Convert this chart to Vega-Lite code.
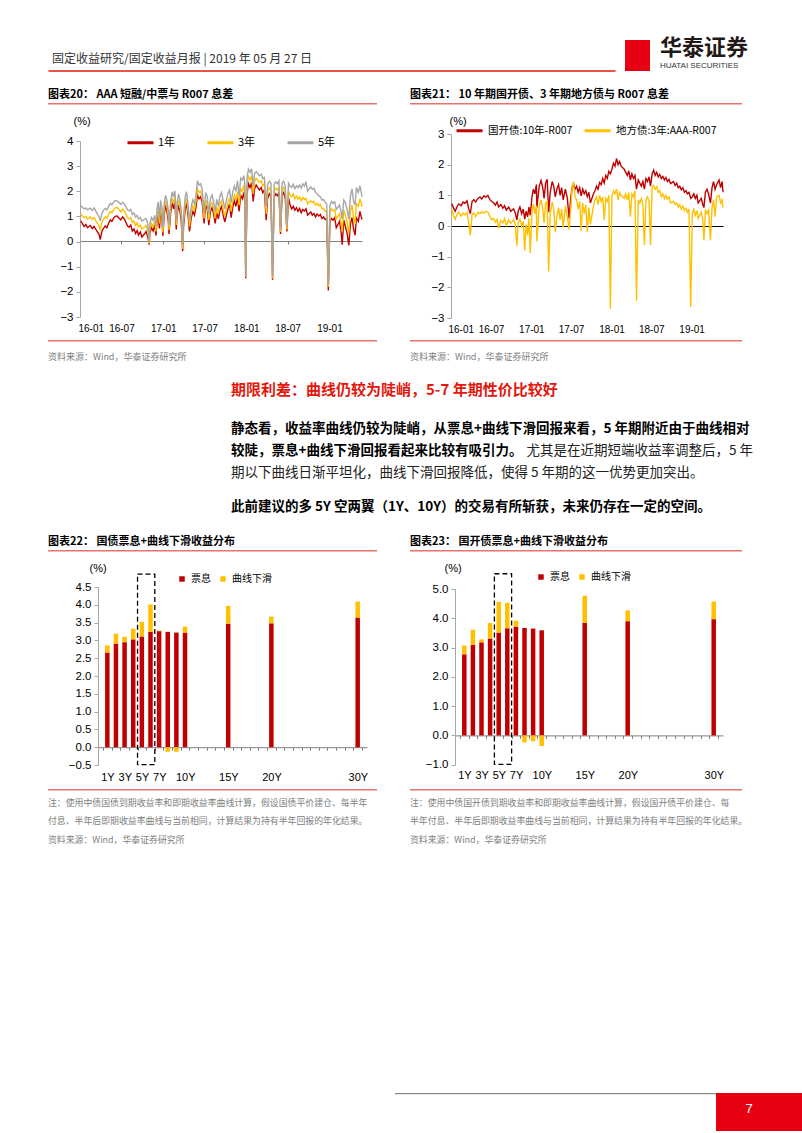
{
"$schema": "https://vega.github.io/schema/vega-lite/v6.json",
"background": "white",
"padding": {"left": 48, "top": 37, "right": 0, "bottom": 0},
"config": {
  "font": "Noto Sans CJK SC",
  "view": {"stroke": null},
  "concat": {"spacing": 0},
  "axis": {"grid": false, "labelFont": "Liberation Sans", "labelFontSize": 11.5, "labelColor": "#000000", "domainColor": "#a6a6a6", "tickColor": "#a6a6a6", "labelOverlap": false},
  "legend": {"labelFont": "Noto Sans CJK SC", "labelColor": "#000000", "padding": 0},
  "title": {"font": "Noto Sans CJK SC", "color": "#000000", "fontWeight": "normal", "anchor": "start", "frame": "group"}
},
"datasets": {
  "s20": [
    {"date":"2016-01-04","1年":0.82,"3年":1.10,"5年":1.45},
    {"date":"2016-01-11","1年":0.72,"3年":1.02,"5年":1.36},
    {"date":"2016-01-19","1年":0.60,"3年":0.95,"5年":1.30},
    {"date":"2016-01-27","1年":0.68,"3年":1.00,"5年":1.34},
    {"date":"2016-02-03","1年":0.55,"3年":0.90,"5年":1.26},
    {"date":"2016-02-15","1年":0.64,"3年":0.98,"5年":1.33},
    {"date":"2016-02-24","1年":0.52,"3年":0.88,"5年":1.24},
    {"date":"2016-03-03","1年":0.60,"3年":0.96,"5年":1.34},
    {"date":"2016-03-11","1年":0.48,"3年":0.82,"5年":1.20},
    {"date":"2016-03-18","1年":0.38,"3年":0.72,"5年":1.08},
    {"date":"2016-03-25","1年":0.28,"3年":0.62,"5年":0.98},
    {"date":"2016-03-30","1年":0.08,"3年":0.45,"5年":0.82},
    {"date":"2016-04-06","1年":0.40,"3年":0.76,"5年":1.12},
    {"date":"2016-04-13","1年":0.52,"3年":0.88,"5年":1.24},
    {"date":"2016-04-21","1年":0.62,"3年":0.98,"5年":1.32},
    {"date":"2016-04-28","1年":0.55,"3年":0.92,"5年":1.26},
    {"date":"2016-05-06","1年":0.74,"3年":1.08,"5年":1.40},
    {"date":"2016-05-13","1年":0.86,"3年":1.20,"5年":1.52},
    {"date":"2016-05-20","1年":0.80,"3年":1.14,"5年":1.46},
    {"date":"2016-05-27","1年":0.92,"3年":1.26,"5年":1.56},
    {"date":"2016-06-03","1年":1.00,"3年":1.34,"5年":1.63},
    {"date":"2016-06-12","1年":1.02,"3年":1.36,"5年":1.62},
    {"date":"2016-06-20","1年":0.94,"3年":1.28,"5年":1.56},
    {"date":"2016-06-28","1年":0.86,"3年":1.18,"5年":1.48},
    {"date":"2016-07-06","1年":0.98,"3年":1.30,"5年":1.56},
    {"date":"2016-07-14","1年":0.90,"3年":1.22,"5年":1.50},
    {"date":"2016-07-21","1年":0.76,"3年":1.08,"5年":1.38},
    {"date":"2016-07-28","1年":0.62,"3年":0.95,"5年":1.26},
    {"date":"2016-08-04","1年":0.58,"3年":0.90,"5年":1.22},
    {"date":"2016-08-11","1年":0.66,"3年":0.96,"5年":1.28},
    {"date":"2016-08-18","1年":0.42,"3年":0.76,"5年":1.08},
    {"date":"2016-08-25","1年":0.50,"3年":0.82,"5年":1.14},
    {"date":"2016-09-01","1年":0.32,"3年":0.64,"5年":0.98},
    {"date":"2016-09-08","1年":0.44,"3年":0.74,"5年":1.04},
    {"date":"2016-09-14","1年":0.26,"3年":0.58,"5年":0.90},
    {"date":"2016-09-22","1年":0.38,"3年":0.66,"5年":0.96},
    {"date":"2016-09-29","1年":0.18,"3年":0.50,"5年":0.82},
    {"date":"2016-10-10","1年":0.30,"3年":0.58,"5年":0.88},
    {"date":"2016-10-17","1年":0.40,"3年":0.64,"5年":0.92},
    {"date":"2016-10-24","1年":0.22,"3年":0.46,"5年":0.74},
    {"date":"2016-10-28","1年":0.05,"3年":0.20,"5年":0.40},
    {"date":"2016-10-31","1年":-0.12,"3年":-0.08,"5年":0.00},
    {"date":"2016-11-03","1年":0.32,"3年":0.46,"5年":0.70},
    {"date":"2016-11-10","1年":0.56,"3年":0.72,"5年":0.96},
    {"date":"2016-11-17","1年":0.42,"3年":0.60,"5年":0.84},
    {"date":"2016-11-24","1年":0.66,"3年":0.82,"5年":1.04},
    {"date":"2016-11-30","1年":0.24,"3年":0.40,"5年":0.62},
    {"date":"2016-12-05","1年":0.90,"3年":1.10,"5年":1.34},
    {"date":"2016-12-09","1年":1.08,"3年":1.30,"5年":1.58},
    {"date":"2016-12-15","1年":0.52,"3年":0.72,"5年":0.94},
    {"date":"2016-12-20","1年":1.15,"3年":1.38,"5年":1.64},
    {"date":"2016-12-26","1年":0.92,"3年":1.12,"5年":1.36},
    {"date":"2016-12-30","1年":0.22,"3年":0.36,"5年":0.58},
    {"date":"2017-01-05","1年":1.05,"3年":1.28,"5年":1.52},
    {"date":"2017-01-11","1年":1.45,"3年":1.62,"5年":1.84},
    {"date":"2017-01-17","1年":1.20,"3年":1.40,"5年":1.64},
    {"date":"2017-01-23","1年":0.80,"3年":1.00,"5年":1.22},
    {"date":"2017-01-26","1年":0.30,"3年":0.45,"5年":0.66},
    {"date":"2017-02-03","1年":1.20,"3年":1.42,"5年":1.66},
    {"date":"2017-02-09","1年":1.55,"3年":1.74,"5年":1.98},
    {"date":"2017-02-15","1年":1.30,"3年":1.52,"5年":1.78},
    {"date":"2017-02-21","1年":1.58,"3年":1.78,"5年":2.02},
    {"date":"2017-02-27","1年":0.48,"3年":0.66,"5年":0.86},
    {"date":"2017-03-03","1年":1.10,"3年":1.32,"5年":1.56},
    {"date":"2017-03-09","1年":1.45,"3年":1.66,"5年":1.90},
    {"date":"2017-03-15","1年":1.20,"3年":1.42,"5年":1.66},
    {"date":"2017-03-21","1年":0.80,"3年":1.00,"5年":1.24},
    {"date":"2017-03-27","1年":-0.38,"3年":-0.28,"5年":-0.15},
    {"date":"2017-03-31","1年":0.60,"3年":0.80,"5年":1.02},
    {"date":"2017-04-07","1年":1.28,"3年":1.50,"5年":1.76},
    {"date":"2017-04-13","1年":1.52,"3年":1.72,"5年":1.98},
    {"date":"2017-04-19","1年":1.10,"3年":1.32,"5年":1.56},
    {"date":"2017-04-26","1年":0.40,"3年":0.60,"5年":0.82},
    {"date":"2017-05-04","1年":0.95,"3年":1.18,"5年":1.42},
    {"date":"2017-05-11","1年":1.20,"3年":1.42,"5年":1.66},
    {"date":"2017-05-18","1年":1.05,"3年":1.26,"5年":1.50},
    {"date":"2017-05-25","1年":1.40,"3年":1.62,"5年":1.88},
    {"date":"2017-05-31","1年":1.85,"3年":2.10,"5年":2.42},
    {"date":"2017-06-07","1年":1.70,"3年":1.95,"5年":2.25},
    {"date":"2017-06-14","1年":1.78,"3年":2.00,"5年":2.30},
    {"date":"2017-06-21","1年":1.55,"3年":1.78,"5年":2.08},
    {"date":"2017-06-29","1年":0.72,"3年":0.92,"5年":1.15},
    {"date":"2017-07-06","1年":1.45,"3年":1.65,"5年":1.95},
    {"date":"2017-07-13","1年":1.30,"3年":1.50,"5年":1.80},
    {"date":"2017-07-20","1年":0.65,"3年":0.85,"5年":1.10},
    {"date":"2017-07-27","1年":1.20,"3年":1.42,"5年":1.70},
    {"date":"2017-08-03","1年":1.35,"3年":1.55,"5年":1.85},
    {"date":"2017-08-10","1年":1.10,"3年":1.30,"5年":1.60},
    {"date":"2017-08-17","1年":0.72,"3年":0.92,"5年":1.18},
    {"date":"2017-08-24","1年":1.15,"3年":1.38,"5年":1.68},
    {"date":"2017-08-31","1年":0.90,"3年":1.10,"5年":1.40},
    {"date":"2017-09-07","1年":1.25,"3年":1.50,"5年":1.82},
    {"date":"2017-09-14","1年":1.40,"3年":1.62,"5年":1.95},
    {"date":"2017-09-21","1年":1.05,"3年":1.28,"5年":1.62},
    {"date":"2017-09-28","1年":0.78,"3年":1.00,"5年":1.30},
    {"date":"2017-10-12","1年":1.30,"3年":1.55,"5年":1.92},
    {"date":"2017-10-19","1年":1.50,"3年":1.72,"5年":2.05},
    {"date":"2017-10-26","1年":0.95,"3年":1.20,"5年":1.55},
    {"date":"2017-11-02","1年":1.35,"3年":1.60,"5年":1.98},
    {"date":"2017-11-09","1年":1.62,"3年":1.85,"5年":2.20},
    {"date":"2017-11-16","1年":1.40,"3年":1.65,"5年":2.00},
    {"date":"2017-11-23","1年":1.75,"3年":2.00,"5年":2.42},
    {"date":"2017-11-30","1年":1.20,"3年":1.45,"5年":1.80},
    {"date":"2017-12-07","1年":1.85,"3年":2.10,"5年":2.52},
    {"date":"2017-12-14","1年":1.70,"3年":2.00,"5年":2.45},
    {"date":"2017-12-21","1年":1.95,"3年":2.25,"5年":2.62},
    {"date":"2017-12-26","1年":1.50,"3年":1.80,"5年":2.20},
    {"date":"2017-12-29","1年":-1.46,"3年":-1.40,"5年":-1.38},
    {"date":"2018-01-04","1年":1.90,"3年":2.25,"5年":2.55},
    {"date":"2018-01-10","1年":2.30,"3年":2.60,"5年":2.88},
    {"date":"2018-01-17","1年":2.15,"3年":2.45,"5年":2.75},
    {"date":"2018-01-24","1年":2.35,"3年":2.62,"5年":2.90},
    {"date":"2018-01-31","1年":1.60,"3年":1.90,"5年":2.20},
    {"date":"2018-02-06","1年":2.10,"3年":2.40,"5年":2.70},
    {"date":"2018-02-13","1年":2.25,"3年":2.52,"5年":2.78},
    {"date":"2018-02-27","1年":2.05,"3年":2.35,"5年":2.62},
    {"date":"2018-03-07","1年":2.15,"3年":2.42,"5年":2.68},
    {"date":"2018-03-14","1年":1.95,"3年":2.22,"5年":2.50},
    {"date":"2018-03-21","1年":2.05,"3年":2.30,"5年":2.55},
    {"date":"2018-03-29","1年":0.85,"3年":1.10,"5年":1.40},
    {"date":"2018-04-04","1年":1.70,"3年":1.98,"5年":2.25},
    {"date":"2018-04-12","1年":1.90,"3年":2.15,"5年":2.40},
    {"date":"2018-04-19","1年":1.80,"3年":2.05,"5年":2.32},
    {"date":"2018-04-26","1年":-1.52,"3年":-1.46,"5年":-1.40},
    {"date":"2018-05-03","1年":1.75,"3年":2.00,"5年":2.28},
    {"date":"2018-05-10","1年":1.90,"3年":2.12,"5年":2.38},
    {"date":"2018-05-17","1年":1.82,"3年":2.05,"5年":2.30},
    {"date":"2018-05-24","1年":1.95,"3年":2.18,"5年":2.42},
    {"date":"2018-05-31","1年":0.30,"3年":0.38,"5年":0.50},
    {"date":"2018-06-07","1年":1.85,"3年":2.08,"5年":2.35},
    {"date":"2018-06-14","1年":1.95,"3年":2.15,"5年":2.40},
    {"date":"2018-06-21","1年":1.70,"3年":1.92,"5年":2.20},
    {"date":"2018-06-28","1年":0.40,"3年":0.48,"5年":0.62},
    {"date":"2018-07-05","1年":1.75,"3年":2.00,"5年":2.32},
    {"date":"2018-07-12","1年":1.45,"3年":1.85,"5年":2.20},
    {"date":"2018-07-19","1年":1.30,"3年":1.78,"5年":2.15},
    {"date":"2018-07-26","1年":1.40,"3年":1.90,"5年":2.28},
    {"date":"2018-08-02","1年":1.25,"3年":1.70,"5年":2.10},
    {"date":"2018-08-09","1年":1.35,"3年":1.80,"5年":2.22},
    {"date":"2018-08-16","1年":1.20,"3年":1.68,"5年":2.15},
    {"date":"2018-08-23","1年":1.32,"3年":1.78,"5年":2.25},
    {"date":"2018-08-30","1年":1.15,"3年":1.62,"5年":2.12},
    {"date":"2018-09-06","1年":1.28,"3年":1.75,"5年":2.30},
    {"date":"2018-09-13","1年":1.22,"3年":1.68,"5年":2.20},
    {"date":"2018-09-20","1年":1.30,"3年":1.72,"5年":2.38},
    {"date":"2018-09-27","1年":1.05,"3年":1.50,"5年":2.00},
    {"date":"2018-10-11","1年":1.18,"3年":1.62,"5年":2.18},
    {"date":"2018-10-18","1年":1.05,"3年":1.55,"5年":2.08},
    {"date":"2018-10-25","1年":1.12,"3年":1.60,"5年":2.12},
    {"date":"2018-11-01","1年":0.98,"3年":1.45,"5年":1.95},
    {"date":"2018-11-08","1年":1.10,"3年":1.52,"5年":1.90},
    {"date":"2018-11-15","1年":1.02,"3年":1.42,"5年":1.82},
    {"date":"2018-11-22","1年":1.08,"3年":1.48,"5年":1.78},
    {"date":"2018-11-29","1年":0.92,"3年":1.30,"5年":1.65},
    {"date":"2018-12-06","1年":0.98,"3年":1.32,"5年":1.68},
    {"date":"2018-12-13","1年":0.88,"3年":1.20,"5年":1.55},
    {"date":"2018-12-20","1年":0.92,"3年":1.22,"5年":1.50},
    {"date":"2018-12-27","1年":-1.95,"3年":-1.80,"5年":-1.70},
    {"date":"2019-01-03","1年":0.80,"3年":1.18,"5年":1.45},
    {"date":"2019-01-10","1年":0.92,"3年":1.30,"5年":1.60},
    {"date":"2019-01-17","1年":0.85,"3年":1.22,"5年":1.52},
    {"date":"2019-01-24","1年":0.95,"3年":1.28,"5年":1.58},
    {"date":"2019-01-31","1年":0.55,"3年":0.90,"5年":1.28},
    {"date":"2019-02-14","1年":0.80,"3年":1.10,"5年":1.45},
    {"date":"2019-02-21","1年":0.40,"3年":0.75,"5年":1.20},
    {"date":"2019-02-26","1年":-0.12,"3年":0.40,"5年":0.90},
    {"date":"2019-03-05","1年":0.85,"3年":1.25,"5年":1.65},
    {"date":"2019-03-12","1年":0.60,"3年":1.05,"5年":1.55},
    {"date":"2019-03-19","1年":0.35,"3年":0.80,"5年":1.30},
    {"date":"2019-03-27","1年":-0.15,"3年":0.30,"5年":0.90},
    {"date":"2019-04-03","1年":0.70,"3年":1.20,"5年":1.80},
    {"date":"2019-04-10","1年":0.95,"3年":1.45,"5年":2.10},
    {"date":"2019-04-17","1年":0.50,"3年":0.95,"5年":1.60},
    {"date":"2019-04-24","1年":0.25,"3年":0.70,"5年":1.45},
    {"date":"2019-04-29","1年":0.95,"3年":1.50,"5年":2.15},
    {"date":"2019-05-08","1年":0.80,"3年":1.40,"5年":1.95},
    {"date":"2019-05-15","1年":1.20,"3年":1.70,"5年":2.22},
    {"date":"2019-05-20","1年":1.00,"3年":1.55,"5年":2.00},
    {"date":"2019-05-24","1年":0.88,"3年":1.38,"5年":1.78}
  ],
  "s21": [
    {"date":"2016-01-04","国开债:10年-R007":0.73,"地方债:3年:AAA-R007":0.55},
    {"date":"2016-01-12","国开债:10年-R007":0.60,"地方债:3年:AAA-R007":0.35},
    {"date":"2016-01-20","国开债:10年-R007":0.48,"地方债:3年:AAA-R007":0.22},
    {"date":"2016-01-28","国开债:10年-R007":0.62,"地方债:3年:AAA-R007":0.38},
    {"date":"2016-02-05","国开债:10年-R007":0.72,"地方债:3年:AAA-R007":0.45},
    {"date":"2016-02-16","国开债:10年-R007":0.66,"地方债:3年:AAA-R007":0.32},
    {"date":"2016-02-25","国开债:10年-R007":0.78,"地方债:3年:AAA-R007":0.42},
    {"date":"2016-03-04","国开债:10年-R007":0.74,"地方债:3年:AAA-R007":0.36},
    {"date":"2016-03-14","国开债:10年-R007":0.82,"地方债:3年:AAA-R007":0.44},
    {"date":"2016-03-22","国开债:10年-R007":0.55,"地方债:3年:AAA-R007":0.10},
    {"date":"2016-03-29","国开债:10年-R007":0.40,"地方债:3年:AAA-R007":-0.30},
    {"date":"2016-04-06","国开债:10年-R007":0.80,"地方债:3年:AAA-R007":0.38},
    {"date":"2016-04-14","国开债:10年-R007":0.86,"地方债:3年:AAA-R007":0.42},
    {"date":"2016-04-22","国开债:10年-R007":0.78,"地方债:3年:AAA-R007":0.30},
    {"date":"2016-05-03","国开债:10年-R007":0.90,"地方债:3年:AAA-R007":0.45},
    {"date":"2016-05-12","国开债:10年-R007":0.95,"地方债:3年:AAA-R007":0.40},
    {"date":"2016-05-20","国开债:10年-R007":0.88,"地方债:3年:AAA-R007":0.46},
    {"date":"2016-05-30","国开债:10年-R007":0.98,"地方债:3年:AAA-R007":0.42},
    {"date":"2016-06-08","国开债:10年-R007":0.94,"地方债:3年:AAA-R007":0.48},
    {"date":"2016-06-17","国开债:10年-R007":1.00,"地方债:3年:AAA-R007":0.45},
    {"date":"2016-06-27","国开债:10年-R007":0.85,"地方债:3年:AAA-R007":0.30},
    {"date":"2016-07-05","国开债:10年-R007":0.80,"地方债:3年:AAA-R007":0.20},
    {"date":"2016-07-13","国开债:10年-R007":0.76,"地方债:3年:AAA-R007":0.25},
    {"date":"2016-07-21","国开债:10年-R007":0.68,"地方债:3年:AAA-R007":0.12},
    {"date":"2016-07-29","国开债:10年-R007":0.78,"地方债:3年:AAA-R007":0.22},
    {"date":"2016-08-05","国开债:10年-R007":0.62,"地方债:3年:AAA-R007":-0.08},
    {"date":"2016-08-15","国开债:10年-R007":0.70,"地方债:3年:AAA-R007":0.18},
    {"date":"2016-08-24","国开债:10年-R007":0.58,"地方债:3年:AAA-R007":0.10},
    {"date":"2016-09-01","国开债:10年-R007":0.66,"地方债:3年:AAA-R007":0.24},
    {"date":"2016-09-09","国开债:10年-R007":0.52,"地方债:3年:AAA-R007":0.02},
    {"date":"2016-09-20","国开债:10年-R007":0.62,"地方债:3年:AAA-R007":0.20},
    {"date":"2016-09-29","国开债:10年-R007":0.48,"地方债:3年:AAA-R007":0.08},
    {"date":"2016-10-12","国开债:10年-R007":0.56,"地方债:3年:AAA-R007":0.20},
    {"date":"2016-10-20","国开债:10年-R007":0.42,"地方债:3年:AAA-R007":0.05},
    {"date":"2016-10-27","国开债:10年-R007":0.20,"地方债:3年:AAA-R007":-0.64},
    {"date":"2016-11-02","国开债:10年-R007":0.48,"地方债:3年:AAA-R007":0.10},
    {"date":"2016-11-10","国开债:10年-R007":0.62,"地方债:3年:AAA-R007":0.22},
    {"date":"2016-11-18","国开债:10年-R007":0.40,"地方债:3年:AAA-R007":0.00},
    {"date":"2016-11-25","国开债:10年-R007":0.55,"地方债:3年:AAA-R007":0.15},
    {"date":"2016-12-02","国开债:10年-R007":0.22,"地方债:3年:AAA-R007":-0.80},
    {"date":"2016-12-08","国开债:10年-R007":0.48,"地方债:3年:AAA-R007":0.05},
    {"date":"2016-12-15","国开债:10年-R007":0.30,"地方债:3年:AAA-R007":-0.30},
    {"date":"2016-12-21","国开债:10年-R007":0.62,"地方债:3年:AAA-R007":0.25},
    {"date":"2016-12-27","国开债:10年-R007":0.35,"地方债:3年:AAA-R007":-0.88},
    {"date":"2017-01-04","国开债:10年-R007":0.95,"地方债:3年:AAA-R007":0.45},
    {"date":"2017-01-10","国开债:10年-R007":1.20,"地方债:3年:AAA-R007":0.72},
    {"date":"2017-01-17","国开债:10年-R007":1.05,"地方债:3年:AAA-R007":0.40},
    {"date":"2017-01-24","国开债:10年-R007":1.35,"地方债:3年:AAA-R007":0.66},
    {"date":"2017-01-26","国开债:10年-R007":0.60,"地方债:3年:AAA-R007":-0.50},
    {"date":"2017-02-06","国开债:10年-R007":1.30,"地方债:3年:AAA-R007":0.65},
    {"date":"2017-02-14","国开债:10年-R007":1.48,"地方债:3年:AAA-R007":0.85},
    {"date":"2017-02-22","国开债:10年-R007":1.25,"地方债:3年:AAA-R007":0.55},
    {"date":"2017-02-28","国开债:10年-R007":0.90,"地方债:3年:AAA-R007":0.10},
    {"date":"2017-03-07","国开债:10年-R007":1.40,"地方债:3年:AAA-R007":0.75},
    {"date":"2017-03-14","国开债:10年-R007":1.52,"地方债:3年:AAA-R007":0.80},
    {"date":"2017-03-21","国开债:10年-R007":0.45,"地方债:3年:AAA-R007":-1.48},
    {"date":"2017-03-28","国开债:10年-R007":1.10,"地方债:3年:AAA-R007":0.40},
    {"date":"2017-04-06","国开债:10年-R007":1.45,"地方债:3年:AAA-R007":0.78},
    {"date":"2017-04-13","国开债:10年-R007":1.30,"地方债:3年:AAA-R007":0.55},
    {"date":"2017-04-20","国开债:10年-R007":0.95,"地方债:3年:AAA-R007":-0.20},
    {"date":"2017-04-27","国开债:10年-R007":1.20,"地方债:3年:AAA-R007":0.30},
    {"date":"2017-05-05","国开债:10年-R007":1.35,"地方债:3年:AAA-R007":0.60},
    {"date":"2017-05-12","国开债:10年-R007":1.00,"地方债:3年:AAA-R007":0.20},
    {"date":"2017-05-19","国开债:10年-R007":1.25,"地方债:3年:AAA-R007":0.55},
    {"date":"2017-05-26","国开债:10年-R007":0.85,"地方债:3年:AAA-R007":-0.05},
    {"date":"2017-06-05","国开债:10年-R007":1.20,"地方债:3年:AAA-R007":0.65},
    {"date":"2017-06-14","国开债:10年-R007":0.90,"地方债:3年:AAA-R007":0.30},
    {"date":"2017-06-22","国开债:10年-R007":0.25,"地方债:3年:AAA-R007":-0.12},
    {"date":"2017-06-30","国开债:10年-R007":0.95,"地方债:3年:AAA-R007":0.60},
    {"date":"2017-07-06","国开债:10年-R007":1.25,"地方债:3年:AAA-R007":1.30},
    {"date":"2017-07-12","国开债:10年-R007":1.38,"地方债:3年:AAA-R007":1.42},
    {"date":"2017-07-19","国开债:10年-R007":1.20,"地方债:3年:AAA-R007":0.95},
    {"date":"2017-07-26","国开债:10年-R007":1.30,"地方债:3年:AAA-R007":0.85},
    {"date":"2017-08-02","国开债:10年-R007":1.10,"地方债:3年:AAA-R007":0.55},
    {"date":"2017-08-09","国开债:10年-R007":1.25,"地方债:3年:AAA-R007":0.80},
    {"date":"2017-08-16","国开债:10年-R007":0.98,"地方债:3年:AAA-R007":-0.15},
    {"date":"2017-08-23","国开债:10年-R007":1.20,"地方债:3年:AAA-R007":0.75},
    {"date":"2017-08-30","国开债:10年-R007":1.05,"地方债:3年:AAA-R007":0.40},
    {"date":"2017-09-06","国开债:10年-R007":1.15,"地方债:3年:AAA-R007":0.70},
    {"date":"2017-09-13","国开债:10年-R007":0.95,"地方债:3年:AAA-R007":-0.20},
    {"date":"2017-09-20","国开债:10年-R007":1.10,"地方债:3年:AAA-R007":0.60},
    {"date":"2017-09-27","国开债:10年-R007":0.75,"地方债:3年:AAA-R007":0.05},
    {"date":"2017-10-11","国开债:10年-R007":1.05,"地方债:3年:AAA-R007":0.65},
    {"date":"2017-10-18","国开债:10年-R007":1.15,"地方债:3年:AAA-R007":0.85},
    {"date":"2017-10-25","国开债:10年-R007":1.30,"地方债:3年:AAA-R007":0.95},
    {"date":"2017-11-01","国开债:10年-R007":1.20,"地方债:3年:AAA-R007":0.70},
    {"date":"2017-11-08","国开债:10年-R007":1.42,"地方债:3年:AAA-R007":1.00},
    {"date":"2017-11-15","国开债:10年-R007":1.35,"地方债:3年:AAA-R007":0.80},
    {"date":"2017-11-22","国开债:10年-R007":1.55,"地方债:3年:AAA-R007":0.95},
    {"date":"2017-11-29","国开债:10年-R007":1.40,"地方债:3年:AAA-R007":0.20},
    {"date":"2017-12-06","国开债:10年-R007":1.65,"地方债:3年:AAA-R007":0.90},
    {"date":"2017-12-13","国开债:10年-R007":1.55,"地方债:3年:AAA-R007":0.80},
    {"date":"2017-12-20","国开债:10年-R007":1.78,"地方债:3年:AAA-R007":1.00},
    {"date":"2017-12-27","国开债:10年-R007":1.70,"地方债:3年:AAA-R007":-2.70},
    {"date":"2018-01-03","国开债:10年-R007":1.85,"地方债:3年:AAA-R007":0.95},
    {"date":"2018-01-10","国开债:10年-R007":2.05,"地方债:3年:AAA-R007":1.15},
    {"date":"2018-01-17","国开债:10年-R007":1.95,"地方债:3年:AAA-R007":1.05},
    {"date":"2018-01-24","国开债:10年-R007":2.20,"地方债:3年:AAA-R007":1.20},
    {"date":"2018-01-31","国开债:10年-R007":2.00,"地方债:3年:AAA-R007":0.85},
    {"date":"2018-02-07","国开债:10年-R007":2.10,"地方债:3年:AAA-R007":1.10},
    {"date":"2018-02-14","国开债:10年-R007":1.95,"地方债:3年:AAA-R007":1.00},
    {"date":"2018-02-28","国开债:10年-R007":1.85,"地方债:3年:AAA-R007":0.90},
    {"date":"2018-03-07","国开债:10年-R007":1.75,"地方债:3年:AAA-R007":1.05},
    {"date":"2018-03-14","国开债:10年-R007":1.65,"地方债:3年:AAA-R007":0.85},
    {"date":"2018-03-21","国开债:10年-R007":1.80,"地方债:3年:AAA-R007":1.10},
    {"date":"2018-03-28","国开债:10年-R007":1.50,"地方债:3年:AAA-R007":0.30},
    {"date":"2018-04-04","国开债:10年-R007":1.70,"地方债:3年:AAA-R007":1.05},
    {"date":"2018-04-11","国开债:10年-R007":1.55,"地方债:3年:AAA-R007":0.95},
    {"date":"2018-04-18","国开债:10年-R007":1.65,"地方债:3年:AAA-R007":1.15},
    {"date":"2018-04-25","国开债:10年-R007":1.20,"地方债:3年:AAA-R007":-2.44},
    {"date":"2018-05-03","国开债:10年-R007":1.50,"地方债:3年:AAA-R007":0.85},
    {"date":"2018-05-10","国开债:10年-R007":1.40,"地方债:3年:AAA-R007":0.75},
    {"date":"2018-05-17","国开债:10年-R007":1.30,"地方债:3年:AAA-R007":0.90},
    {"date":"2018-05-24","国开债:10年-R007":1.45,"地方债:3年:AAA-R007":0.70},
    {"date":"2018-05-31","国开债:10年-R007":1.20,"地方债:3年:AAA-R007":-0.62},
    {"date":"2018-06-07","国开债:10年-R007":1.55,"地方债:3年:AAA-R007":0.85},
    {"date":"2018-06-14","国开债:10年-R007":1.45,"地方债:3年:AAA-R007":0.95},
    {"date":"2018-06-21","国开债:10年-R007":1.60,"地方债:3年:AAA-R007":0.80},
    {"date":"2018-06-28","国开债:10年-R007":1.30,"地方债:3年:AAA-R007":-0.62},
    {"date":"2018-07-05","国开债:10年-R007":1.70,"地方债:3年:AAA-R007":1.25},
    {"date":"2018-07-12","国开债:10年-R007":1.82,"地方债:3年:AAA-R007":1.32},
    {"date":"2018-07-19","国开债:10年-R007":1.65,"地方债:3年:AAA-R007":1.20},
    {"date":"2018-07-26","国开债:10年-R007":1.75,"地方债:3年:AAA-R007":1.28},
    {"date":"2018-08-02","国开债:10年-R007":1.60,"地方债:3年:AAA-R007":1.10},
    {"date":"2018-08-09","国开债:10年-R007":1.68,"地方债:3年:AAA-R007":1.15},
    {"date":"2018-08-16","国开债:10年-R007":1.55,"地方债:3年:AAA-R007":0.95},
    {"date":"2018-08-23","国开债:10年-R007":1.62,"地方债:3年:AAA-R007":1.05},
    {"date":"2018-08-30","国开债:10年-R007":1.50,"地方债:3年:AAA-R007":0.90},
    {"date":"2018-09-06","国开债:10年-R007":1.58,"地方债:3年:AAA-R007":1.00},
    {"date":"2018-09-13","国开债:10年-R007":1.45,"地方债:3年:AAA-R007":0.88},
    {"date":"2018-09-20","国开债:10年-R007":1.52,"地方债:3年:AAA-R007":0.95},
    {"date":"2018-09-27","国开债:10年-R007":1.38,"地方债:3年:AAA-R007":0.75},
    {"date":"2018-10-11","国开债:10年-R007":1.45,"地方债:3年:AAA-R007":0.80},
    {"date":"2018-10-18","国开债:10年-R007":1.32,"地方债:3年:AAA-R007":0.70},
    {"date":"2018-10-25","国开债:10年-R007":1.40,"地方债:3年:AAA-R007":0.75},
    {"date":"2018-11-01","国开债:10年-R007":1.25,"地方债:3年:AAA-R007":0.62},
    {"date":"2018-11-08","国开债:10年-R007":1.30,"地方债:3年:AAA-R007":0.70},
    {"date":"2018-11-15","国开债:10年-R007":1.18,"地方债:3年:AAA-R007":0.55},
    {"date":"2018-11-22","国开债:10年-R007":1.25,"地方债:3年:AAA-R007":0.65},
    {"date":"2018-11-29","国开债:10年-R007":1.10,"地方债:3年:AAA-R007":0.50},
    {"date":"2018-12-06","国开债:10年-R007":1.15,"地方债:3年:AAA-R007":0.58},
    {"date":"2018-12-13","国开债:10年-R007":1.05,"地方债:3年:AAA-R007":0.45},
    {"date":"2018-12-20","国开债:10年-R007":1.10,"地方债:3年:AAA-R007":0.55},
    {"date":"2018-12-28","国开债:10年-R007":0.90,"地方债:3年:AAA-R007":-2.64},
    {"date":"2019-01-04","国开债:10年-R007":0.95,"地方债:3年:AAA-R007":0.40},
    {"date":"2019-01-11","国开债:10年-R007":1.05,"地方债:3年:AAA-R007":0.55},
    {"date":"2019-01-18","国开债:10年-R007":0.90,"地方债:3年:AAA-R007":0.35},
    {"date":"2019-01-25","国开债:10年-R007":1.00,"地方债:3年:AAA-R007":0.50},
    {"date":"2019-01-31","国开债:10年-R007":0.75,"地方债:3年:AAA-R007":0.25},
    {"date":"2019-02-14","国开债:10年-R007":0.90,"地方债:3年:AAA-R007":0.45},
    {"date":"2019-02-21","国开债:10年-R007":0.70,"地方债:3年:AAA-R007":0.20},
    {"date":"2019-02-26","国开债:10年-R007":0.60,"地方债:3年:AAA-R007":-0.46},
    {"date":"2019-03-05","国开债:10年-R007":1.10,"地方债:3年:AAA-R007":0.50},
    {"date":"2019-03-12","国开债:10年-R007":1.20,"地方债:3年:AAA-R007":0.40},
    {"date":"2019-03-19","国开债:10年-R007":1.05,"地方债:3年:AAA-R007":0.55},
    {"date":"2019-03-28","国开债:10年-R007":0.75,"地方债:3年:AAA-R007":-0.47},
    {"date":"2019-04-04","国开债:10年-R007":1.25,"地方债:3年:AAA-R007":0.60},
    {"date":"2019-04-11","国开债:10年-R007":1.45,"地方债:3年:AAA-R007":0.85},
    {"date":"2019-04-18","国开债:10年-R007":1.20,"地方债:3年:AAA-R007":0.30},
    {"date":"2019-04-25","国开债:10年-R007":1.35,"地方债:3年:AAA-R007":0.95},
    {"date":"2019-05-06","国开债:10年-R007":1.50,"地方债:3年:AAA-R007":1.00},
    {"date":"2019-05-13","国开债:10年-R007":1.25,"地方债:3年:AAA-R007":0.75},
    {"date":"2019-05-20","国开债:10年-R007":1.45,"地方债:3年:AAA-R007":0.85},
    {"date":"2019-05-24","国开债:10年-R007":1.10,"地方债:3年:AAA-R007":0.60}
  ],
  "b22": [
    {"tenor":1,"票息":2.66,"曲线下滑":0.20},
    {"tenor":2,"票息":2.91,"曲线下滑":0.28},
    {"tenor":3,"票息":2.95,"曲线下滑":0.15},
    {"tenor":4,"票息":3.03,"曲线下滑":0.30},
    {"tenor":5,"票息":3.11,"曲线下滑":0.41},
    {"tenor":6,"票息":3.24,"曲线下滑":0.77},
    {"tenor":7,"票息":3.26,"曲线下滑":0.02},
    {"tenor":8,"票息":3.24,"曲线下滑":-0.13},
    {"tenor":9,"票息":3.22,"曲线下滑":-0.13},
    {"tenor":10,"票息":3.22,"曲线下滑":0.17},
    {"tenor":15,"票息":3.47,"曲线下滑":0.50},
    {"tenor":20,"票息":3.48,"曲线下滑":0.19},
    {"tenor":30,"票息":3.64,"曲线下滑":0.45}
  ],
  "b23": [
    {"tenor":1,"票息":2.77,"曲线下滑":0.30},
    {"tenor":2,"票息":3.09,"曲线下滑":0.52},
    {"tenor":3,"票息":3.18,"曲线下滑":0.10},
    {"tenor":4,"票息":3.31,"曲线下滑":0.53},
    {"tenor":5,"票息":3.51,"曲线下滑":1.05},
    {"tenor":6,"票息":3.66,"曲线下滑":0.87},
    {"tenor":7,"票息":3.72,"曲线下滑":0.20},
    {"tenor":8,"票息":3.67,"曲线下滑":-0.24},
    {"tenor":9,"票息":3.65,"曲线下滑":-0.20},
    {"tenor":10,"票息":3.59,"曲线下滑":-0.36},
    {"tenor":15,"票息":3.85,"曲线下滑":0.92},
    {"tenor":20,"票息":3.90,"曲线下滑":0.37},
    {"tenor":30,"票息":3.97,"曲线下滑":0.60}
  ]
},
"spacing": 0,
"resolve": {"scale": {"color": "independent"}},
"vconcat": [
  {"hconcat": [
    {"width": 567, "height": 30.5, "data": {"values": [{}]}, "mark": {"type": "text", "text": ""},
     "encoding": {"x": {"datum": 0, "type": "quantitative", "axis": {"domainColor": "#E3170D", "domainWidth": 1.6, "ticks": false, "labels": false, "grid": false, "title": null}}},
     "title": {"text": "固定收益研究/固定收益月报 | 2019 年 05 月 27 日", "fontSize": 12, "color": "#333333", "offset": -26, "dx": 4}},
    {"width": 25, "height": 31, "view": {"fill": "#E60012", "stroke": null}, "data": {"values": [{}]}, "mark": {"type": "text", "text": ""}},
    {"width": 92, "height": 31, "data": {"values": [{}]}, "mark": {"type": "text", "text": ""},
     "title": {"text": "华泰证券", "subtitle": "HUATAI SECURITIES", "fontSize": 22, "fontWeight": "bold", "color": "#231815", "subtitleFont": "Liberation Sans", "subtitleFontSize": 8, "subtitleColor": "#333333", "subtitlePadding": 2, "offset": -31}}
  ], "spacing": 10},
  {"width": 1, "height": 17, "data": {"values": [{}]}, "mark": {"type": "text", "text": ""}},
  {"vconcat": [
    {"hconcat": [
      {"width": 329, "height": 1.5, "view": {"fill": "#E8736C", "stroke": null}, "data": {"values": [{}]}, "mark": {"type": "text", "text": ""},
       "title": {"text": "图表20：  AAA 短融/中票与 R007 息差", "fontSize": 11, "fontWeight": "bold", "offset": -2}},
      {"width": 332, "height": 1.5, "view": {"fill": "#E8736C", "stroke": null}, "data": {"values": [{}]}, "mark": {"type": "text", "text": ""},
       "title": {"text": "图表21：  10 年期国开债、3 年期地方债与 R007 息差", "fontSize": 11, "fontWeight": "bold", "offset": -2}}
    ], "spacing": 33},
    {"hconcat": [
      {"width": 1, "height": 1, "data": {"values": [{}]}, "mark": {"type": "text", "text": ""}},
      {"vconcat": [
        {"width": 1, "height": 1, "data": {"values": [{}]}, "mark": {"type": "text", "text": ""}},
        {"width": 282, "height": 176,
         "data": {"name": "s20"},
         "transform": [{"fold": ["1年", "3年", "5年"], "as": ["series", "value"]}],
         "mark": {"type": "line", "strokeWidth": 1.4},
         "encoding": {
           "x": {"field": "date", "type": "temporal",
                 "scale": {"domain": [{"year": 2016, "month": 1, "date": 1}, {"year": 2019, "month": 5, "date": 24}]},
                 "axis": {"values": [{"year": 2016, "month": 1, "date": 1}, {"year": 2016, "month": 7, "date": 1}, {"year": 2017, "month": 1, "date": 1}, {"year": 2017, "month": 7, "date": 1}, {"year": 2018, "month": 1, "date": 1}, {"year": 2018, "month": 7, "date": 1}, {"year": 2019, "month": 1, "date": 1}],
                          "format": "%y-%m", "offset": -76, "tickSize": 3, "labelPadding": 79, "labelOverlap": false, "labelFlushOffset": 2, "domainColor": "#7f7f7f", "tickColor": "#7f7f7f", "labelFontSize": 10, "title": null}},
           "y": {"field": "value", "type": "quantitative", "scale": {"domain": [-3, 4], "nice": false, "zero": false},
                 "axis": {"values": [-3, -2, -1, 0, 1, 2, 3, 4], "tickSize": 4, "labelPadding": 3, "labelOverlap": false, "minExtent": 31, "maxExtent": 31,
                          "title": "(%)", "titleAngle": 0, "titleAlign": "left", "titleBaseline": "middle", "titleX": -7, "titleY": -20, "titleFont": "Liberation Sans", "titleFontSize": 11, "titleFontWeight": "normal", "titleColor": "#000000"}},
           "color": {"field": "series", "type": "nominal", "scale": {"domain": ["1年", "3年", "5年"], "range": ["#C00000", "#FFC000", "#A6A6A6"]},
                     "legend": {"title": null, "orient": "none", "legendX": 46, "legendY": -13, "direction": "horizontal", "symbolType": "stroke", "symbolSize": 676, "symbolStrokeWidth": 3, "labelFontSize": 11, "labelOffset": 3, "columnPadding": 25}}
         }}
      ], "spacing": 0, "resolve": {"scale": {"color": "independent"}}},
      {"width": 48, "height": 1, "data": {"values": [{}]}, "mark": {"type": "text", "text": ""}},
      {"vconcat": [
        {"width": 1, "height": 1, "data": {"values": [{}]}, "mark": {"type": "text", "text": ""}},
        {"width": 272, "height": 184,
         "data": {"name": "s21"},
         "transform": [{"fold": ["国开债:10年-R007", "地方债:3年:AAA-R007"], "as": ["series", "value"]}],
         "mark": {"type": "line", "strokeWidth": 1.4},
         "encoding": {
           "x": {"field": "date", "type": "temporal",
                 "scale": {"domain": [{"year": 2016, "month": 1, "date": 1}, {"year": 2019, "month": 5, "date": 24}]},
                 "axis": {"values": [{"year": 2016, "month": 1, "date": 1}, {"year": 2016, "month": 7, "date": 1}, {"year": 2017, "month": 1, "date": 1}, {"year": 2017, "month": 7, "date": 1}, {"year": 2018, "month": 1, "date": 1}, {"year": 2018, "month": 7, "date": 1}, {"year": 2019, "month": 1, "date": 1}],
                          "format": "%y-%m", "offset": -92, "ticks": false, "labelPadding": 98, "labelOverlap": false, "labelFlushOffset": 3, "domainColor": "#000000", "domainWidth": 1, "labelFontSize": 10, "title": null}},
           "y": {"field": "value", "type": "quantitative", "scale": {"domain": [-3, 3], "nice": false, "zero": false},
                 "axis": {"values": [-3, -2, -1, 0, 1, 2, 3], "tickSize": 4, "labelPadding": 3, "labelOverlap": false, "minExtent": 38, "maxExtent": 38,
                          "title": "(%)", "titleAngle": 0, "titleAlign": "left", "titleBaseline": "middle", "titleX": -2, "titleY": -13, "titleFont": "Liberation Sans", "titleFontSize": 11, "titleFontWeight": "normal", "titleColor": "#000000"}},
           "color": {"field": "series", "type": "nominal", "scale": {"domain": ["国开债:10年-R007", "地方债:3年:AAA-R007"], "range": ["#C00000", "#FFC000"]},
                     "legend": {"title": null, "orient": "none", "legendX": 4, "legendY": -18, "direction": "horizontal", "symbolType": "stroke", "symbolSize": 676, "symbolStrokeWidth": 3, "labelFontSize": 10.5, "labelOffset": 4, "columnPadding": 5}}
         }}
      ], "spacing": 0, "resolve": {"scale": {"color": "independent"}}}
    ], "spacing": 0, "resolve": {"scale": {"color": "independent"}}}
  ], "spacing": -31.5, "resolve": {"scale": {"color": "independent"}}},
  {"hconcat": [
    {"width": 329, "height": 1.5, "view": {"fill": "#E8736C", "stroke": null}, "data": {"values": [{}]}, "mark": {"type": "text", "text": ""},
     "title": {"text": "资料来源：Wind，华泰证券研究所", "orient": "bottom", "fontSize": 9, "color": "#808080", "offset": 7}},
    {"width": 332, "height": 1.5, "view": {"fill": "#E8736C", "stroke": null}, "data": {"values": [{}]}, "mark": {"type": "text", "text": ""},
     "title": {"text": "资料来源：Wind，华泰证券研究所", "orient": "bottom", "fontSize": 9, "color": "#808080", "offset": 7}}
  ], "spacing": 33},
  {"width": 1, "height": 21, "data": {"values": [{}]}, "mark": {"type": "text", "text": ""}},
  {"hconcat": [
    {"width": 183, "height": 1, "data": {"values": [{}]}, "mark": {"type": "text", "text": ""}},
    {"vconcat": [
      {"width": 522, "height": 66,
       "title": {"text": "期限利差：曲线仍较为陡峭，5-7 年期性价比较好", "fontSize": 15, "fontWeight": "bold", "color": "#E3170D", "offset": 20},
       "data": {"values": [
         {"line": 1, "seg": "lead", "key": true, "text": "静态看，收益率曲线仍较为陡峭，从票息+曲线下滑回报来看，5 年期附近由于曲线相对"},
         {"line": 2, "seg": "lead", "key": true, "text": "较陡，票息+曲线下滑回报看起来比较有吸引力。"},
         {"line": 2, "seg": "tail", "key": false, "text": "尤其是在近期短端收益率调整后，5 年"},
         {"line": 3, "seg": "lead", "key": false, "text": "期以下曲线日渐平坦化，曲线下滑回报降低，使得 5 年期的这一优势更加突出。"}
       ]},
       "encoding": {"y": {"field": "line", "type": "ordinal", "axis": null, "scale": {"domain": [1, 2, 3]}}, "text": {"field": "text"}},
       "layer": [
         {"transform": [{"filter": "datum.key && datum.seg === 'lead'"}],
          "mark": {"type": "text", "align": "left", "baseline": "middle", "fontSize": 13.5, "fontWeight": "bold", "color": "#000000"},
          "encoding": {"x": {"datum": 0, "type": "quantitative", "scale": {"domain": [0, 1], "nice": false}, "axis": null}}},
         {"transform": [{"filter": "!datum.key && datum.seg === 'lead'"}],
          "mark": {"type": "text", "align": "left", "baseline": "middle", "fontSize": 13.5, "fontWeight": "normal", "color": "#222222"},
          "encoding": {"x": {"datum": 0, "type": "quantitative", "axis": null}}},
         {"transform": [{"filter": "datum.seg === 'tail'"}],
          "mark": {"type": "text", "align": "right", "baseline": "middle", "fontSize": 13.5, "fontWeight": "normal", "color": "#222222"},
          "encoding": {"x": {"datum": 1, "type": "quantitative", "axis": null}}}
       ]},
      {"width": 522, "height": 22,
       "data": {"values": [{"text": "此前建议的多 5Y 空两翼（1Y、10Y）的交易有所斩获，未来仍存在一定的空间。"}]},
       "mark": {"type": "text", "align": "left", "baseline": "middle", "fontSize": 13.5, "fontWeight": "bold", "color": "#000000"},
       "encoding": {"text": {"field": "text"}, "x": {"datum": 0, "type": "quantitative", "scale": {"domain": [0, 1], "nice": false}, "axis": null}}}
    ], "spacing": 12}
  ], "spacing": 0},
  {"width": 1, "height": 17, "data": {"values": [{}]}, "mark": {"type": "text", "text": ""}},
  {"vconcat": [
    {"hconcat": [
      {"width": 329, "height": 1.5, "view": {"fill": "#E8736C", "stroke": null}, "data": {"values": [{}]}, "mark": {"type": "text", "text": ""},
       "title": {"text": "图表22：  国债票息+曲线下滑收益分布", "fontSize": 11, "fontWeight": "bold", "offset": -2}},
      {"width": 332, "height": 1.5, "view": {"fill": "#E8736C", "stroke": null}, "data": {"values": [{}]}, "mark": {"type": "text", "text": ""},
       "title": {"text": "图表23：  国开债票息+曲线下滑收益分布", "fontSize": 11, "fontWeight": "bold", "offset": -2}}
    ], "spacing": 33},
    {"hconcat": [
      {"width": 1, "height": 1, "data": {"values": [{}]}, "mark": {"type": "text", "text": ""}},
      {"vconcat": [
        {"width": 1, "height": 1, "data": {"values": [{}]}, "mark": {"type": "text", "text": ""}},
        {"width": 269, "height": 178,
         "layer": [
           {"data": {"name": "b22"},
            "transform": [{"fold": ["票息", "曲线下滑"], "as": ["part", "value"]}],
            "mark": {"type": "bar", "size": 4.5},
            "encoding": {
              "x": {"field": "tenor", "type": "quantitative", "scale": {"domain": [0.5, 30.5], "nice": false, "zero": false},
                    "axis": {"values": [0.5,1.5,2.5,3.5,4.5,5.5,6.5,7.5,8.5,9.5,10.5,11.5,12.5,13.5,14.5,15.5,16.5,17.5,18.5,19.5,20.5,21.5,22.5,23.5,24.5,25.5,26.5,27.5,28.5,29.5,30.5],
                             "labelExpr": "indexof([0.5,2.5,4.5,6.5,9.5,14.5,19.5,29.5], datum.value) >= 0 ? format(datum.value + 0.5, 'd') + 'Y' : ''",
                             "labelOffset": 4.48, "labelFlush": false, "labelOverlap": false, "labelBound": false, "offset": -17.8, "tickSize": 3, "labelPadding": 21,
                             "domainColor": "#7f7f7f", "tickColor": "#7f7f7f", "labelFontSize": 11, "title": null}},
              "y": {"field": "value", "type": "quantitative", "stack": "zero", "scale": {"domain": [-0.5, 4.5], "nice": false, "zero": false},
                    "axis": {"values": [-0.5, 0, 0.5, 1, 1.5, 2, 2.5, 3, 3.5, 4, 4.5], "format": ".1f", "tickSize": 4, "labelPadding": 3, "labelOverlap": false, "labelBound": false, "minExtent": 49, "maxExtent": 49,
                             "title": "(%)", "titleAngle": 0, "titleAlign": "left", "titleBaseline": "middle", "titleX": -9, "titleY": -19, "titleFont": "Liberation Sans", "titleFontSize": 11, "titleFontWeight": "normal", "titleColor": "#000000"}},
              "color": {"field": "part", "type": "nominal", "scale": {"domain": ["票息", "曲线下滑"], "range": ["#C00000", "#FFC000"]},
                        "legend": {"title": null, "orient": "none", "legendX": 79, "legendY": -13, "direction": "horizontal", "symbolType": "square", "symbolSize": 30, "labelFontSize": 10, "labelOffset": 4, "columnPadding": 7}}
            }},
           {"data": {"values": [{}]},
            "mark": {"type": "rect", "filled": false, "stroke": "#000000", "strokeDash": [5, 3], "strokeWidth": 1.3},
            "encoding": {
              "x": {"datum": 4.5, "type": "quantitative",
                    "axis": {"values": [0.5,1.5,2.5,3.5,4.5,5.5,6.5,7.5,8.5,9.5,10.5,11.5,12.5,13.5,14.5,15.5,16.5,17.5,18.5,19.5,20.5,21.5,22.5,23.5,24.5,25.5,26.5,27.5,28.5,29.5,30.5],
                             "labelExpr": "indexof([0.5,2.5,4.5,6.5,9.5,14.5,19.5,29.5], datum.value) >= 0 ? format(datum.value + 0.5, 'd') + 'Y' : ''",
                             "labelOffset": 4.48, "labelFlush": false, "labelOverlap": false, "labelBound": false, "offset": -17.8, "tickSize": 3, "labelPadding": 21,
                             "domainColor": "#7f7f7f", "tickColor": "#7f7f7f", "labelFontSize": 11, "title": null}},
              "x2": {"datum": 6.5},
              "y": {"datum": -0.49, "type": "quantitative",
                    "axis": {"values": [-0.5, 0, 0.5, 1, 1.5, 2, 2.5, 3, 3.5, 4, 4.5], "format": ".1f", "tickSize": 4, "labelPadding": 3, "labelOverlap": false, "labelBound": false, "minExtent": 49, "maxExtent": 49,
                             "title": "(%)", "titleAngle": 0, "titleAlign": "left", "titleBaseline": "middle", "titleX": -9, "titleY": -19, "titleFont": "Liberation Sans", "titleFontSize": 11, "titleFontWeight": "normal", "titleColor": "#000000"}},
              "y2": {"datum": 4.86}}}
         ]}
      ], "spacing": 0, "resolve": {"scale": {"color": "independent"}}},
      {"width": 39, "height": 1, "data": {"values": [{}]}, "mark": {"type": "text", "text": ""}},
      {"vconcat": [
        {"width": 1, "height": 1, "data": {"values": [{}]}, "mark": {"type": "text", "text": ""}},
        {"width": 268, "height": 175.7,
         "layer": [
           {"data": {"name": "b23"},
            "transform": [{"fold": ["票息", "曲线下滑"], "as": ["part", "value"]}],
            "mark": {"type": "bar", "size": 4.5},
            "encoding": {
              "x": {"field": "tenor", "type": "quantitative", "scale": {"domain": [0.5, 30.5], "nice": false, "zero": false},
                    "axis": {"values": [0.5,1.5,2.5,3.5,4.5,5.5,6.5,7.5,8.5,9.5,10.5,11.5,12.5,13.5,14.5,15.5,16.5,17.5,18.5,19.5,20.5,21.5,22.5,23.5,24.5,25.5,26.5,27.5,28.5,29.5,30.5],
                             "labelExpr": "indexof([0.5,2.5,4.5,6.5,9.5,14.5,19.5,29.5], datum.value) >= 0 ? format(datum.value + 0.5, 'd') + 'Y' : ''",
                             "labelOffset": 4.47, "labelFlush": false, "labelOverlap": false, "labelBound": false, "offset": -29.3, "tickSize": 3, "labelPadding": 31.5,
                             "domainColor": "#7f7f7f", "tickColor": "#7f7f7f", "labelFontSize": 11, "title": null}},
              "y": {"field": "value", "type": "quantitative", "stack": "zero", "scale": {"domain": [-1, 5], "nice": false, "zero": false},
                    "axis": {"values": [-1, 0, 1, 2, 3, 4, 5], "format": ".1f", "tickSize": 4, "labelPadding": 3, "labelOverlap": false, "labelBound": false, "minExtent": 48, "maxExtent": 48,
                             "title": "(%)", "titleAngle": 0, "titleAlign": "left", "titleBaseline": "middle", "titleX": -11, "titleY": -21, "titleFont": "Liberation Sans", "titleFontSize": 11, "titleFontWeight": "normal", "titleColor": "#000000"}},
              "color": {"field": "part", "type": "nominal", "scale": {"domain": ["票息", "曲线下滑"], "range": ["#C00000", "#FFC000"]},
                        "legend": {"title": null, "orient": "none", "legendX": 81, "legendY": -17, "direction": "horizontal", "symbolType": "square", "symbolSize": 30, "labelFontSize": 10, "labelOffset": 4, "columnPadding": 7}}
            }},
           {"data": {"values": [{}]},
            "mark": {"type": "rect", "filled": false, "stroke": "#000000", "strokeDash": [5, 3], "strokeWidth": 1.3},
            "encoding": {
              "x": {"datum": 4.5, "type": "quantitative",
                    "axis": {"values": [0.5,1.5,2.5,3.5,4.5,5.5,6.5,7.5,8.5,9.5,10.5,11.5,12.5,13.5,14.5,15.5,16.5,17.5,18.5,19.5,20.5,21.5,22.5,23.5,24.5,25.5,26.5,27.5,28.5,29.5,30.5],
                             "labelExpr": "indexof([0.5,2.5,4.5,6.5,9.5,14.5,19.5,29.5], datum.value) >= 0 ? format(datum.value + 0.5, 'd') + 'Y' : ''",
                             "labelOffset": 4.47, "labelFlush": false, "labelOverlap": false, "labelBound": false, "offset": -29.3, "tickSize": 3, "labelPadding": 31.5,
                             "domainColor": "#7f7f7f", "tickColor": "#7f7f7f", "labelFontSize": 11, "title": null}},
              "x2": {"datum": 6.5},
              "y": {"datum": -0.99, "type": "quantitative",
                    "axis": {"values": [-1, 0, 1, 2, 3, 4, 5], "format": ".1f", "tickSize": 4, "labelPadding": 3, "labelOverlap": false, "labelBound": false, "minExtent": 48, "maxExtent": 48,
                             "title": "(%)", "titleAngle": 0, "titleAlign": "left", "titleBaseline": "middle", "titleX": -11, "titleY": -21, "titleFont": "Liberation Sans", "titleFontSize": 11, "titleFontWeight": "normal", "titleColor": "#000000"}},
              "y2": {"datum": 5.52}}}
         ]}
      ], "spacing": 0, "resolve": {"scale": {"color": "independent"}}}
    ], "spacing": 0, "resolve": {"scale": {"color": "independent"}}}
  ], "spacing": -34.5, "resolve": {"scale": {"color": "independent"}}},
  {"hconcat": [
    {"width": 329, "height": 1.5, "view": {"fill": "#E8736C", "stroke": null}, "data": {"values": [{}]}, "mark": {"type": "text", "text": ""},
     "title": {"text": ["注：使用中债国债到期收益率和即期收益率曲线计算，假设国债平价建仓、每半年", "付息、半年后即期收益率曲线与当前相同，计算结果为持有半年回报的年化结果。", "资料来源：Wind，华泰证券研究所"], "orient": "bottom", "fontSize": 8.9, "lineHeight": 18.5, "color": "#808080", "offset": 4}},
    {"width": 332, "height": 1.5, "view": {"fill": "#E8736C", "stroke": null}, "data": {"values": [{}]}, "mark": {"type": "text", "text": ""},
     "title": {"text": ["注：使用中债国开债到期收益率和即期收益率曲线计算，假设国开债平价建仓、每", "半年付息、半年后即期收益率曲线与当前相同，计算结果为持有半年回报的年化结果。", "资料来源：Wind，华泰证券研究所"], "orient": "bottom", "fontSize": 8.9, "lineHeight": 18.5, "color": "#808080", "offset": 4}}
  ], "spacing": 33},
  {"width": 1, "height": 242, "data": {"values": [{}]}, "mark": {"type": "text", "text": ""}},
  {"hconcat": [
    {"width": 347, "height": 1, "data": {"values": [{}]}, "mark": {"type": "text", "text": ""}},
    {"width": 321, "height": 1.2, "view": {"fill": "#8c8c8c", "stroke": null}, "data": {"values": [{}]}, "mark": {"type": "text", "text": ""}},
    {"width": 86, "height": 38, "view": {"fill": "#E60012", "stroke": null}, "data": {"values": [{"page": "7"}]},
     "mark": {"type": "text", "color": "#ffffff", "font": "Liberation Sans", "fontSize": 13, "dx": -10, "dy": -3},
     "encoding": {"text": {"field": "page"}}}
  ], "spacing": 0}
]
}
